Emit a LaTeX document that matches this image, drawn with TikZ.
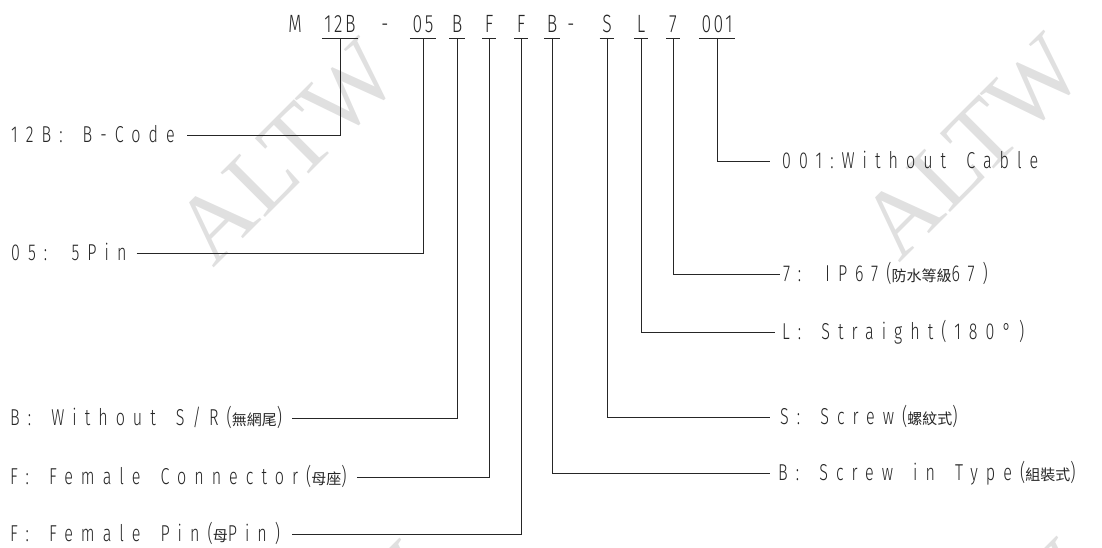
\documentclass[tikz,border=0pt]{standalone}
\usepackage{fontspec}
\IfFontExistsTF{Fira Sans Light}{%
 \newfontfamily\cad[FakeStretch=0.7,LetterSpace=35,WordSpace=1.6]{Fira Sans Light}%
 \newfontfamily\cadtop[FakeStretch=0.7,LetterSpace=10]{Fira Sans Light}}{%
 \newfontfamily\cad[FakeStretch=0.7,LetterSpace=35,WordSpace=1.6]{Fira Sans}%
 \newfontfamily\cadtop[FakeStretch=0.7,LetterSpace=10]{Fira Sans}}
\newfontfamily\cjk{Noto Sans CJK TC}
\newfontfamily\wmfont{Liberation Serif}
\newcommand{\zh}[1]{{\cjk\fontsize{15}{15}\selectfont #1}}
\tikzset{
  wm/.style={font=\wmfont\fontsize{96}{96}\selectfont, text=black!12, inner sep=0pt, rotate=45},
  code/.style={font=\cadtop\fontsize{25}{25}\selectfont, inner xsep=2.5pt, inner ysep=0pt, anchor=base, text=black!85},
  lab/.style={font=\cad\fontsize{23}{23}\selectfont, inner sep=0pt, anchor=base west, text=black!85},
  conn/.style={draw=black!85, line width=0.8pt},
}
\begin{document}
\begin{tikzpicture}[x=1pt,y=-1pt]
\useasboundingbox (0,0) rectangle (1102,548);
\begin{scope}
\clip (0,0) rectangle (1102,548);
\node[wm] (w1) at (287,152) {ALTW};
\node[wm] (w2) at (972,147) {ALTW};
\node[wm] (w3) at (328,655) {ALTW};
\node[wm] (w4) at (985,653) {ALTW};
\end{scope}
% code line
\coordinate (u) at (0,38);
\node[code] (pM) at (295,33) {M};
\node[code] (p12) at (340,33) {12B};
\node[code] (d1) at (385,33) {-};
\node[code] (p05) at (423,33) {05};
\node[code] (pB1) at (457,33) {B};
\node[code] (pF1) at (489,33) {F};
\node[code] (pF2) at (521,33) {F};
\node[code] (pB2) at (552,33) {B};
\node[code] (d2) at (571,33) {-};
\node[code] (pS) at (607,33) {S};
\node[code] (pL) at (641,33) {L};
\node[code] (p7) at (673,33) {7};
\node[code] (p001) at (717,33) {001};
\foreach \p in {p12,p05,pB1,pF1,pF2,pB2,pS,pL,p7,p001}{
  \draw[conn] (\p.west |- u) -- (\p.east |- u);
}
% left labels
\node[lab] (l12) at (11,142.5) {12B: B-Code};
\node[lab] (l05) at (11,260.5) {05: 5Pin};
\node[lab] (lB) at (10,425.5) {B: Without S/R(\zh{無網尾})};
\node[lab] (lF1) at (10,484.5) {F: Female Connector(\zh{母座})};
\node[lab] (lF2) at (10,541.5) {F: Female Pin(\zh{母}Pin)};
% right labels
\node[lab] (r001) at (782,168.5) {001:Without Cable};
\node[lab] (r7) at (783,281.5) {7: IP67(\zh{防水等級}67)};
\node[lab] (rL) at (782,339.5) {L: Straight(180°)};
\node[lab] (rS) at (780,424.5) {S: Screw(\zh{螺紋式})};
\node[lab] (rB) at (778,480.5) {B: Screw in Type(\zh{組裝式})};
% connectors left
\draw[conn] ([xshift=12pt,yshift=7.5pt]l12.base east) -| (p12.center |- u);
\draw[conn] ([xshift=10pt,yshift=7.5pt]l05.base east) -| (p05.center |- u);
\draw[conn] ([xshift=10pt,yshift=7.5pt]lB.base east) -| (pB1.center |- u);
\draw[conn] ([xshift=10pt,yshift=7.5pt]lF1.base east) -| (pF1.center |- u);
\draw[conn] ([xshift=12pt,yshift=7.5pt]lF2.base east) -| (pF2.center |- u);
% connectors right
\draw[conn] (p001.center |- u) |- ([xshift=-12pt,yshift=7.5pt]r001.base west);
\draw[conn] (p7.center |- u) |- ([xshift=-3pt,yshift=7.5pt]r7.base west);
\draw[conn] (pL.center |- u) |- ([xshift=-7pt,yshift=7.5pt]rL.base west);
\draw[conn] (pS.center |- u) |- ([xshift=-10pt,yshift=7.5pt]rS.base west);
\draw[conn] (pB2.center |- u) |- ([xshift=-8pt,yshift=7.5pt]rB.base west);
\end{tikzpicture}
\end{document}
